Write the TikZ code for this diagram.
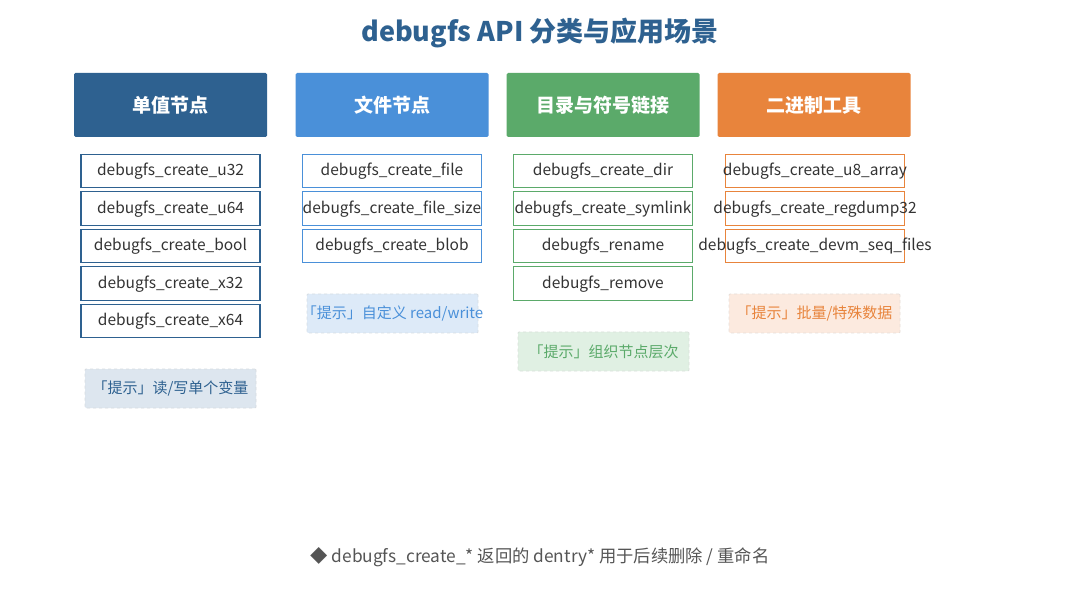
\documentclass[tikz,border=0pt]{standalone}
\usepackage{fontspec}
\setmainfont{Noto Sans CJK SC}
\usetikzlibrary{positioning}
\definecolor{cA}{HTML}{2E6190}
\definecolor{cB}{HTML}{4A90D9}
\definecolor{cC}{HTML}{5BAA6A}
\definecolor{cD}{HTML}{E8843C}
\definecolor{fA}{HTML}{DDE6EF}
\definecolor{fB}{HTML}{DDEAF8}
\definecolor{fC}{HTML}{E0F0E3}
\definecolor{fD}{HTML}{FCEADF}
\definecolor{txt}{HTML}{333333}
\definecolor{foot}{HTML}{555555}
\newcommand\zw[1]{\makebox[0pt]{\raisebox{-5pt}[0pt][0pt]{#1}}}
\tikzset{
  hdr/.style={fill=#1, draw=none, rounded corners=1.5pt, minimum width=193pt, minimum height=64pt,
    inner sep=0pt, text=white, font=\fontsize{19}{21}\selectfont\bfseries},
  item/.style={draw=#1, line width=1.3pt, fill=white, minimum width=179pt, minimum height=33.5pt,
    inner sep=0pt, text=txt, font=\fontsize{15.5}{18}\selectfont},
  tip/.style={fill=#1, draw=#1!85!black!60!white, dashed, line width=0.8pt, rounded corners=1pt,
    minimum width=171pt, minimum height=39pt, inner sep=0pt, font=\fontsize{15}{17}\selectfont},
}
\begin{document}
\begin{tikzpicture}[x=1pt,y=-1pt]
\useasboundingbox (0,0) rectangle (1080,596);
\fill[white] (0,0) rectangle (1080,596);
\node[text=cA, font=\fontsize{27}{30}\selectfont\bfseries] (title) at (540,33) {debugfs API 分类与应用场景};
% headers
\node[hdr=cA] (h1) at (170.5,105) {单值节点};
\node[hdr=cB] (h2) at (392,105) {文件节点};
\node[hdr=cC] (h3) at (603,105) {目录与符号链接};
\node[hdr=cD] (h4) at (814,105) {二进制工具};
% column 1
\node[item=cA] (a1) at (170.5,171) {\zw{debugfs\_create\_u32}};
\node[item=cA] (a2) at (170.5,208.5) {\zw{debugfs\_create\_u64}};
\node[item=cA] (a3) at (170.5,246) {\zw{debugfs\_create\_bool}};
\node[item=cA] (a4) at (170.5,283.5) {\zw{debugfs\_create\_x32}};
\node[item=cA] (a5) at (170.5,321) {\zw{debugfs\_create\_x64}};
% column 2
\node[item=cB] (b1) at (392,171) {\zw{debugfs\_create\_file}};
\node[item=cB] (b2) at (392,208.5) {\zw{debugfs\_create\_file\_size}};
\node[item=cB] (b3) at (392,246) {\zw{debugfs\_create\_blob}};
% column 3
\node[item=cC] (c1) at (603,171) {\zw{debugfs\_create\_dir}};
\node[item=cC] (c2) at (603,208.5) {\zw{debugfs\_create\_symlink}};
\node[item=cC] (c3) at (603,246) {\zw{debugfs\_rename}};
\node[item=cC] (c4) at (603,283.5) {\zw{debugfs\_remove}};
% column 4
\node[item=cD] (d1) at (815,171) {\zw{debugfs\_create\_u8\_array}};
\node[item=cD] (d2) at (815,208.5) {\zw{debugfs\_create\_regdump32}};
\node[item=cD] (d3) at (815,246) {\zw{debugfs\_create\_devm\_seq\_files}};
% tips
\node[tip=fA, text=cA] (t1) at (170.5,388.5) {「提示」读/写单个变量};
\node[tip=fB, text=cB] (t2) at (392.5,313.5) {\zw{「提示」自定义 read/write}};
\node[tip=fC, text=cC] (t3) at (603.5,351.5) {「提示」组织节点层次};
\node[tip=fD, text=cD] (t4) at (814.5,313.5) {「提示」批量/特殊数据};
% footer
\node[text=foot, font=\fontsize{17.3}{20}\selectfont] (foot) at (540,557) {◆ debugfs\_create\_* 返回的 dentry* 用于后续删除 / 重命名};
\end{tikzpicture}
\end{document}
